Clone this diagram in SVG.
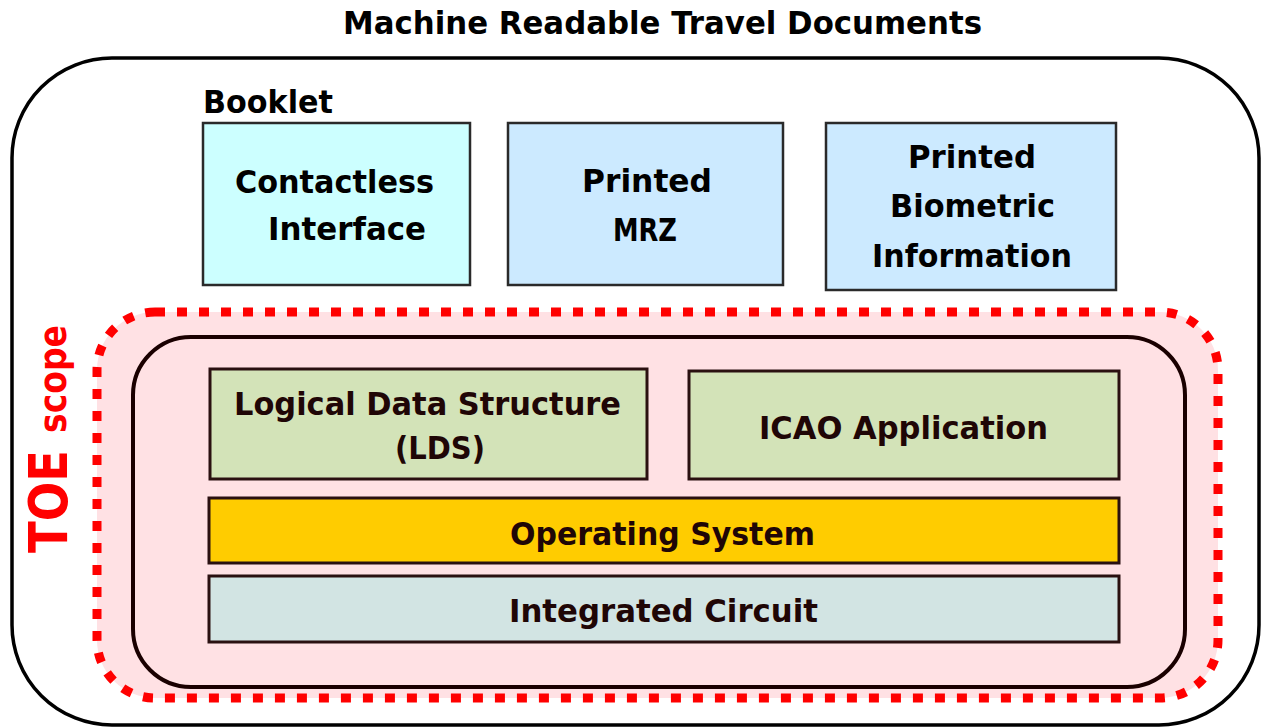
<svg xmlns="http://www.w3.org/2000/svg" width="1269" height="728" viewBox="0 0 1269 728">
<style>
.t{font-family:"DejaVu Sans","Liberation Sans",sans-serif;font-weight:bold;font-size:32px;fill:#000;}
.d{fill:#1f0606;}
.box{stroke:#2a2a2a;stroke-width:2.5;}
.ibox{stroke:#2a1010;stroke-width:3;}
.red{font-family:"DejaVu Sans","Liberation Sans",sans-serif;font-weight:bold;fill:#ff0000;}
</style>
<rect width="1269" height="728" fill="#ffffff"/>
<g id="mrtd">
<rect x="12" y="58" width="1247" height="667" rx="100" ry="100" fill="#ffffff" stroke="#000" stroke-width="3.5"/>
<text class="t" x="343" y="34" textLength="639" lengthAdjust="spacingAndGlyphs">Machine Readable Travel Documents</text>
</g>
<g id="booklet-label">
<text class="t" x="203" y="113" font-size="29" textLength="130" lengthAdjust="spacingAndGlyphs">Booklet</text>
</g>
<g id="contactless">
<rect class="box" x="203" y="123" width="267" height="162" fill="#ccffff"/>
<text class="t" x="235" y="193" textLength="199" lengthAdjust="spacingAndGlyphs">Contactless</text>
<text class="t" x="268" y="240" textLength="158" lengthAdjust="spacingAndGlyphs">Interface</text>
</g>
<g id="mrz">
<rect class="box" x="508" y="123" width="275" height="162" fill="#cceaff"/>
<text class="t" x="582" y="192" textLength="130" lengthAdjust="spacingAndGlyphs">Printed</text>
<text class="t" x="613" y="241" textLength="64" lengthAdjust="spacingAndGlyphs">MRZ</text>
</g>
<g id="biometric">
<rect class="box" x="826" y="123" width="290" height="167" fill="#cceaff"/>
<text class="t" x="908" y="168" textLength="128" lengthAdjust="spacingAndGlyphs">Printed</text>
<text class="t" x="890" y="217" textLength="165" lengthAdjust="spacingAndGlyphs">Biometric</text>
<text class="t" x="872" y="267" textLength="200" lengthAdjust="spacingAndGlyphs">Information</text>
</g>
<g id="toe-scope">
<rect x="97" y="312" width="1121" height="386" rx="58" ry="58" fill="#ffe1e4" stroke="#ff0000" stroke-width="9" stroke-dasharray="10 12"/>
<text class="red" transform="translate(67,553) rotate(-90)" font-size="54" textLength="103" lengthAdjust="spacingAndGlyphs">TOE</text>
<text class="red" transform="translate(66,433) rotate(-90)" font-size="38" font-weight="normal" textLength="108" lengthAdjust="spacingAndGlyphs">scope</text>
</g>
<g id="chip">
<rect x="133" y="337" width="1052" height="350" rx="58" ry="58" fill="none" stroke="#1a0000" stroke-width="4"/>
</g>
<g id="lds">
<rect class="ibox" x="210" y="369" width="437" height="110" fill="#d3e3b8"/>
<text class="t d" x="234" y="415" textLength="387" lengthAdjust="spacingAndGlyphs">Logical Data Structure</text>
<text class="t d" x="395" y="459" textLength="90" lengthAdjust="spacingAndGlyphs">(LDS)</text>
</g>
<g id="icao">
<rect class="ibox" x="689" y="371" width="430" height="108" fill="#d3e3b8"/>
<text class="t d" x="759" y="439" textLength="289" lengthAdjust="spacingAndGlyphs">ICAO Application</text>
</g>
<g id="os">
<rect class="ibox" x="209" y="498" width="910" height="65" fill="#ffcc00"/>
<text class="t d" x="510" y="545" textLength="305" lengthAdjust="spacingAndGlyphs">Operating System</text>
</g>
<g id="ic">
<rect class="ibox" x="209" y="576" width="910" height="66" fill="#d2e4e3"/>
<text class="t d" x="509" y="622" textLength="309" lengthAdjust="spacingAndGlyphs">Integrated Circuit</text>
</g>
<g id="connectors"></g>
</svg>
